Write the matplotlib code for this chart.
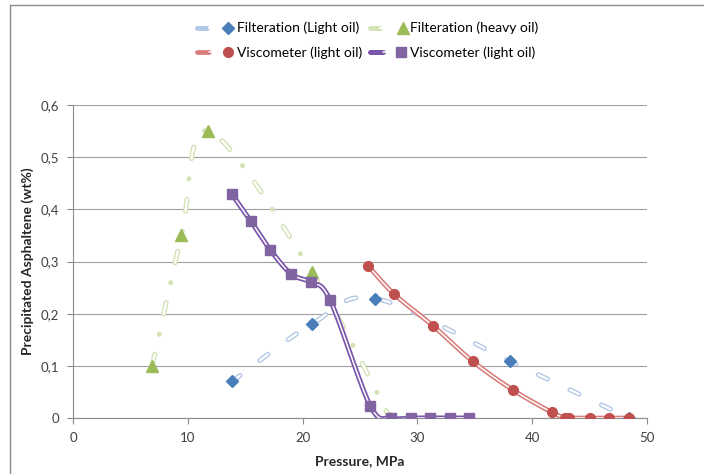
import numpy as np
import matplotlib
matplotlib.use('Agg')
import matplotlib.pyplot as plt
from matplotlib.lines import Line2D
from matplotlib.legend_handler import HandlerTuple
from matplotlib.ticker import FuncFormatter

plt.rcParams['font.family'] = ['Lato', 'DejaVu Sans']
plt.rcParams['lines.scale_dashes'] = False

# data
filt_light_x = [13.85, 20.8, 26.35, 38.05, 48.4]
filt_light_y = [0.07, 0.18, 0.229, 0.109, 0.0]

filt_heavy_x = [6.9, 9.45, 11.8, 20.8, 27.6]
filt_heavy_y = [0.10, 0.35, 0.55, 0.28, 0.0]

visc_red_x = [25.7, 28.0, 31.4, 34.8, 38.3, 41.7, 42.9, 43.2, 45.0, 46.7, 48.4]
visc_red_y = [0.292, 0.237, 0.176, 0.109, 0.054, 0.011, 0.0, 0.0, 0.0, 0.0, 0.0]

visc_purple_x = [13.85, 15.5, 17.2, 19.0, 20.7, 22.4, 25.9, 27.7, 29.4, 31.1, 32.8, 34.5]
visc_purple_y = [0.429, 0.377, 0.322, 0.276, 0.26, 0.226, 0.023, 0.0, 0.0, 0.0, 0.0, 0.0]

labels = ["Filteration (Light oil)", "Filteration (heavy oil)",
          "Viscometer (light oil)", "Viscometer (light oil)"]
x_ticks = [0, 10, 20, 30, 40, 50]
y_ticks = [0, 0.1, 0.2, 0.3, 0.4, 0.5, 0.6]


def smooth(xs, ys, n=30):
    # excel style smoothed line (catmull-rom as bezier), in pixel-ish space
    sx, sy = 574 / 50, 313 / 0.6
    p = np.column_stack([np.asarray(xs) * sx, np.asarray(ys) * sy])
    p = np.vstack([p[0], p, p[-1]])
    out = []
    t = np.linspace(0, 1, n)[:, None]
    for i in range(1, len(p) - 2):
        p0, p1, p2, p3 = p[i - 1], p[i], p[i + 1], p[i + 2]
        c1 = p1 + (p2 - p0) / 6
        c2 = p2 - (p3 - p1) / 6
        seg = (1 - t) ** 3 * p1 + 3 * (1 - t) ** 2 * t * c1 + 3 * (1 - t) * t ** 2 * c2 + t ** 3 * p2
        out.append(seg if i == 1 else seg[1:])
    out = np.vstack(out)
    return out[:, 0] / sx, out[:, 1] / sy


fig = plt.figure(figsize=(7.04, 4.74), dpi=100)
ax = fig.add_axes([73 / 704, 56 / 474, 574 / 704, 313 / 474])

# Filteration light oil - hollow dashes
blue, blue_ln = '#4a7ebb', '#b3c8e6'
sx, sy = smooth(filt_light_x, filt_light_y)
b1, = ax.plot(sx, sy, color=blue_ln, lw=3.6, ls=(0, (7.2, 18)), dash_capstyle='round', zorder=2)
b2, = ax.plot(sx, sy, color='white', lw=1.6, ls=(0, (7.2, 18)), dash_capstyle='round', zorder=2)
b3, = ax.plot(filt_light_x, filt_light_y, ls='none', marker='D', ms=6.5, color=blue, zorder=5)

# Filteration heavy oil - hollow dash + dot
green, green_ln = '#9bbb59', '#d3e3b6'
sx, sy = smooth(filt_heavy_x, filt_heavy_y)
g1, = ax.plot(sx, sy, color=green_ln, lw=3.6, ls=(0, (8.6, 29.4)), dash_capstyle='round', zorder=2)
g2, = ax.plot(sx, sy, color='white', lw=1.6, ls=(0, (8.6, 29.4)), dash_capstyle='round', zorder=2)
g4, = ax.plot(sx, sy, color=green_ln, lw=3.6, ls=(14.7, (0.1, 37.9)), dash_capstyle='round', zorder=2)
g3, = ax.plot(filt_heavy_x, filt_heavy_y, ls='none', marker='^', ms=8, color=green, zorder=5)

# Viscometer red - double line
red, red_ln = '#c0504d', '#d87b79'
sx, sy = smooth(visc_red_x, visc_red_y)
r1, = ax.plot(sx, sy, color=red_ln, lw=3.4, zorder=3, solid_capstyle='round')
r2, = ax.plot(sx, sy, color='white', lw=1.1, zorder=3, solid_capstyle='round')
r3, = ax.plot(visc_red_x, visc_red_y, ls='none', marker='o', ms=7, color=red, zorder=6)

# Viscometer purple - double line
purple, purple_ln = '#8064a2', '#7a55aa'
sx, sy = smooth(visc_purple_x, visc_purple_y)
p1, = ax.plot(sx, sy, color=purple_ln, lw=3.6, zorder=4, solid_capstyle='round')
p2, = ax.plot(sx, sy, color='white', lw=1.1, zorder=4, solid_capstyle='round')
p3, = ax.plot(visc_purple_x, visc_purple_y, ls='none', marker='s', ms=6.5, color=purple, zorder=7)

ax.set_xlim(0, 50)
ax.set_ylim(0, 0.6)
ax.set_xticks(x_ticks)
ax.set_yticks(y_ticks)
ax.yaxis.set_major_formatter(FuncFormatter(lambda v, pos: '0' if v == 0 else ('%.1f' % v).replace('.', ',')))
ax.grid(axis='y', color='#a0a0a0', lw=0.8)
ax.set_axisbelow(True)
for s in ['top', 'right']:
    ax.spines[s].set_visible(False)
for s in ['left', 'bottom']:
    ax.spines[s].set_color('#8c8c8c')
    ax.spines[s].set_linewidth(0.8)
ax.tick_params(direction='out', length=4, width=0.8, color='#8c8c8c', labelsize=9.5,
               labelcolor='#404040', pad=6)

ax.set_xlabel('Pressure, MPa', fontsize=10, fontweight='bold', color='#262626', labelpad=8)
ax.set_ylabel('Precipitated Asphaltene (wt%)', fontsize=10, fontweight='bold', color='#262626', labelpad=5)

handles = [(b1, b2, b3), (r1, r2, r3), (g1, g2, g4, g3), (p1, p2, p3)]
fig.legend(handles, [labels[0], labels[2], labels[1], labels[3]],
           handler_map={tuple: HandlerTuple(ndivide=None, pad=0)},
           loc='center', bbox_to_anchor=(0.522, 0.915), ncol=2, frameon=False,
           fontsize=10, handlelength=2.7, handletextpad=0.15, columnspacing=0.6,
           labelspacing=0.85)

# chart area border (top and left edges visible)
fig.add_artist(Line2D([10 / 704, 1], [1 - 5 / 474] * 2, transform=fig.transFigure, color='#8c8c8c', lw=1))
fig.add_artist(Line2D([10 / 704] * 2, [0, 1 - 5 / 474], transform=fig.transFigure, color='#8c8c8c', lw=1))

fig.savefig('out.png', dpi=100)
